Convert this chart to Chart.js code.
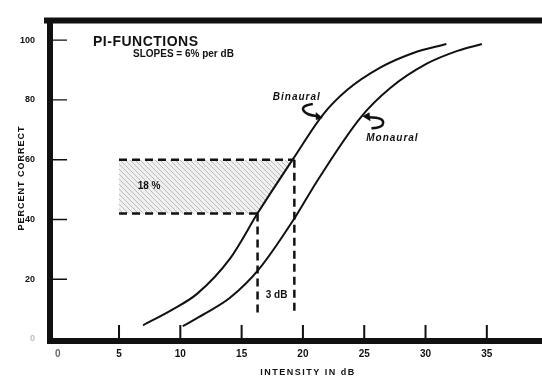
<!DOCTYPE html>
<html>
<head>
<meta charset="utf-8">
<script src="https://cdn.jsdelivr.net/npm/chart.js@4.4.0/dist/chart.umd.min.js"></script>
<style>
  html, body { margin: 0; padding: 0; background: #fff; }
  #wrap { width: 542px; height: 383px; }
</style>
</head>
<body>
<div id="wrap"><canvas id="chart" width="542" height="383"></canvas></div>
<script>
// tick labels
const xTicks = [0, 5, 10, 15, 20, 25, 30, 35];
const yTicks = [0, 20, 40, 60, 80, 100];

// PI-functions (percent correct vs intensity in dB)
const binauralX = [6.96, 9.2, 11.36, 14.05, 16.34, 19.27, 21.64, 23.6, 26.3, 29.0, 31.7];
const binauralY = [4.6, 9.5, 15.1, 26.9, 42.3, 60.7, 75.1, 83.3, 90.8, 95.7, 98.7];
const monauralX = [10.2, 12.0, 14.05, 16.4, 19.36, 21.15, 24.7, 27.1, 30.1, 32.6, 34.6];
const monauralY = [4.3, 8.5, 13.8, 23.3, 40.7, 52.8, 74.1, 83.9, 92.1, 96.4, 98.7];

// the 18% / 3 dB construction
const bandX = [5, 5, 19.3, 16.3, 5];
const bandY = [42, 60, 60, 42, 42];
const dropX = [16.3, 19.3];
const dropTop = [42, 60];
const dropBottom = 8.5;

const pts = (xs, ys) => xs.map((v, i) => ({ x: v, y: ys[i] }));

function hatch() {
    const c = document.createElement('canvas');
    c.width = c.height = 5;
    const g = c.getContext('2d');
    g.fillStyle = 'rgba(0,0,0,0.06)';
    g.fillRect(0, 0, 5, 5);
    g.strokeStyle = 'rgba(0,0,0,0.22)';
    g.lineWidth = 1;
    g.beginPath();
    g.moveTo(0, 0);
    g.lineTo(5, 5);
    g.stroke();
    return g.createPattern(c, 'repeat');
}

const ink = '#111';
const dash = [8, 5];

const datasets = [
    { label: 'Binaural', data: pts(binauralX, binauralY), borderColor: ink, borderWidth: 2,
      pointRadius: 0, cubicInterpolationMode: 'monotone', fill: false },
    { label: 'Monaural', data: pts(monauralX, monauralY), borderColor: ink, borderWidth: 2,
      pointRadius: 0, cubicInterpolationMode: 'monotone', fill: false },
    { label: 'top', data: pts([bandX[1], bandX[2]], [60, 60]), borderColor: ink, borderWidth: 2.5,
      borderDash: dash, pointRadius: 0, fill: false },
    { label: 'bottom', data: pts([bandX[0], bandX[3]], [42, 42]), borderColor: ink, borderWidth: 2.5,
      borderDash: dash, pointRadius: 0, fill: false },
    { label: 'dropL', data: pts([dropX[0], dropX[0]], [dropTop[0], dropBottom]), borderColor: ink,
      borderWidth: 2.5, borderDash: dash, pointRadius: 0, fill: false },
    { label: 'dropR', data: pts([dropX[1], dropX[1]], [dropTop[1], dropBottom]), borderColor: ink,
      borderWidth: 2.5, borderDash: dash, pointRadius: 0, fill: false },
    { label: 'band', data: pts(bandX, bandY), borderWidth: 0, borderColor: 'rgba(0,0,0,0)',
      backgroundColor: hatch(), pointRadius: 0, fill: 'shape', tension: 0 }
];

// frame, inside ticks and annotations
const paper = {
    id: 'paper',
    afterDraw(chart) {
        const { ctx, chartArea: a, scales: { x, y } } = chart;
        ctx.save();
        ctx.strokeStyle = ink;
        ctx.lineWidth = 6;
        ctx.beginPath();
        ctx.moveTo(44, a.top);
        ctx.lineTo(a.right, a.top);
        ctx.moveTo(a.left, a.top - 3);
        ctx.lineTo(a.left, a.bottom + 3);
        ctx.moveTo(a.left - 3, a.bottom + 1);
        ctx.lineTo(a.right, a.bottom + 1);
        ctx.stroke();

        ctx.lineWidth = 1.4;
        ctx.beginPath();
        yTicks.forEach(v => {
            if (v === 0) return;
            const py = y.getPixelForValue(v);
            ctx.moveTo(a.left + 3, py);
            ctx.lineTo(a.left + 17, py);
        });
        ctx.stroke();
        ctx.lineWidth = 2;
        ctx.beginPath();
        xTicks.forEach(v => {
            if (v === 0) return;
            const px = x.getPixelForValue(v);
            ctx.moveTo(px, a.bottom - 2);
            ctx.lineTo(px, a.bottom - 15);
        });
        ctx.stroke();

        ctx.fillStyle = ink;
        ctx.textAlign = 'left';
        ctx.textBaseline = 'alphabetic';
        ctx.font = 'bold 14px "Liberation Sans", Arial, sans-serif';
        ctx.letterSpacing = '0.5px';
        ctx.fillText('PI-FUNCTIONS', 93, 46);
        ctx.letterSpacing = '0px';
        ctx.font = 'bold 10px "Liberation Sans", Arial, sans-serif';
        ctx.fillText('SLOPES = 6% per dB', 133, 57);

        ctx.textAlign = 'center';
        ctx.textBaseline = 'middle';
        ctx.font = 'bold 10px "Liberation Sans", Arial, sans-serif';
        ctx.fillText('18 %', x.getPixelForValue(7.45), y.getPixelForValue(51));
        ctx.fillText('3 dB', x.getPixelForValue(17.85), y.getPixelForValue(14.8));

        ctx.font = 'italic bold 10px "Liberation Sans", Arial, sans-serif';
        ctx.letterSpacing = '1px';
        const bx = x.getPixelForValue(19.5), by = y.getPixelForValue(81);
        ctx.fillText('Binaural', bx, by);
        const mx = x.getPixelForValue(27.3), my = y.getPixelForValue(67.2);
        ctx.fillText('Monaural', mx, my);

        // hook arrows
        ctx.lineWidth = 2.5;
        ctx.beginPath();
        ctx.moveTo(bx + 16, by + 7);
        ctx.quadraticCurveTo(bx + 1, by + 9, bx + 9, by + 16);
        ctx.quadraticCurveTo(bx + 14, by + 19, bx + 21, by + 19);
        ctx.stroke();
        ctx.beginPath();
        ctx.moveTo(bx + 26, by + 21);
        ctx.lineTo(bx + 19, by + 15);
        ctx.lineTo(bx + 19, by + 23);
        ctx.closePath();
        ctx.fill();

        ctx.beginPath();
        ctx.moveTo(mx - 24, my - 21);
        ctx.quadraticCurveTo(mx - 6, my - 21, mx - 10, my - 13);
        ctx.quadraticCurveTo(mx - 13, my - 10, mx - 21, my - 10);
        ctx.stroke();
        ctx.beginPath();
        ctx.moveTo(mx - 30, my - 22);
        ctx.lineTo(mx - 23, my - 26);
        ctx.lineTo(mx - 22, my - 17);
        ctx.closePath();
        ctx.fill();

        // axis titles
        ctx.font = 'bold 9px "Liberation Sans", Arial, sans-serif';
        ctx.letterSpacing = '1.5px';
        ctx.fillText('INTENSITY IN dB', 308, 373);
        ctx.translate(22, 178);
        ctx.rotate(-Math.PI / 2);
        ctx.letterSpacing = '1px';
        ctx.fillText('PERCENT CORRECT', 0, 0);
        ctx.restore();
    }
};

new Chart(document.getElementById('chart'), {
    type: 'line',
    data: { datasets },
    options: {
        responsive: false,
        animation: false,
        layout: { padding: { top: 14, right: 0, left: 0, bottom: 0 } },
        plugins: { legend: { display: false }, tooltip: { enabled: false } },
        scales: {
            x: {
                type: 'linear', min: -0.63, max: 39.5,
                afterBuildTicks: s => { s.ticks = xTicks.map(v => ({ value: v })); },
                afterFit: s => { s.height = 43; },
                grid: { display: false, drawTicks: false },
                border: { display: false },
                ticks: { padding: 8, color: ctx => ctx.tick.value === 0 ? '#666' : ink,
                         font: { family: '"Liberation Sans", Arial, sans-serif', size: 10, weight: 'bold' } }
            },
            y: {
                type: 'linear', min: -0.33, max: 106.6,
                afterBuildTicks: s => { s.ticks = yTicks.map(v => ({ value: v })); },
                afterFit: s => { s.width = 50; },
                grid: { display: false, drawTicks: false },
                border: { display: false },
                ticks: { padding: 15, color: ctx => ctx.tick.value === 0 ? '#bbb' : ink,
                         font: { family: '"Liberation Sans", Arial, sans-serif', size: 9, weight: 'bold' } }
            }
        }
    },
    plugins: [paper]
});
</script>
</body>
</html>
